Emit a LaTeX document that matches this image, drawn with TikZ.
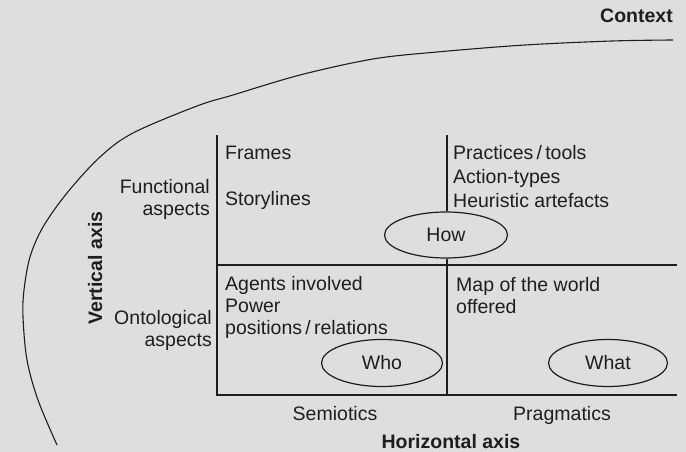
\documentclass[tikz,border=0pt]{standalone}
\usepackage{fontspec}
\setmainfont{Liberation Sans}
\usetikzlibrary{shapes.geometric}
\definecolor{bg}{RGB}{222,222,222}
\definecolor{ink}{RGB}{30,30,30}
\begin{document}
\begin{tikzpicture}[x=1pt,y=-1pt,
  every node/.style={inner sep=0pt, text=ink, font=\fontsize{19.5}{23}\selectfont},
  lbl/.style={anchor=base west},
  rlbl/.style={anchor=base east},
  clbl/.style={anchor=base},
  axis/.style={anchor=base, font=\fontsize{19.5}{23}\selectfont\bfseries},
  oval/.style={ellipse, draw=ink, line width=1.2pt},
  ln/.style={draw=ink, line width=1.2pt}]
\fill[bg] (0,0) rectangle (686,452);
\useasboundingbox (0,0) rectangle (686,452);

% context curve
\draw[ln, line width=1.1pt] plot[smooth, tension=0.55] coordinates {
 (673,40) (612,41) (525,45) (437,52) (373,59) (300,75) (233,95) (197,106)
 (133,133) (100,157) (67,193) (43,227) (30,257) (24,290) (23,317) (27,360) (38,400) (57,445)};

% ellipses
\node[oval, minimum width=123pt, minimum height=46pt] (how) at (446,235) {How};
\node[oval, minimum width=121pt, minimum height=47pt] (who) at (382,363) {Who};
\node[oval, minimum width=119pt, minimum height=47pt] (what) at (608,363) {What};

% grid
\coordinate (tl) at (217,135);
\coordinate (bl) at (217,395);
\coordinate (br) at (677,395);
\coordinate (ml) at (217,265);
\coordinate (mr) at (677,265);
\coordinate (mt) at (447,135);
\coordinate (mb) at (447,395);
\draw[ln] (tl) -- (bl) -- (br);
\draw[ln] (ml) -- (mr);
\draw[ln] (mt) -- (mt |- how.north);
\draw[ln] (mb |- how.south) -- (mb);

% texts
\node[lbl] (frames) at (225,159) {Frames};
\node[lbl] (story) at (225,205) {Storylines};
\node[rlbl] (func1) at (210,193) {Functional};
\node[rlbl] (func2) at (210,215) {aspects};
\node[rlbl] (onto1) at (212,324.5) {Ontological};
\node[rlbl] (onto2) at (212,346) {aspects};
\node[lbl] (ag1) at (225,290) {Agents involved};
\node[lbl] (ag2) at (225,312) {Power};
\node[lbl] (ag3) at (225,334) {positions\,/\,relations};
\node[lbl] (pr1) at (453,159) {Practices\,/\,tools};
\node[lbl] (pr2) at (453,183) {Action-types};
\node[lbl] (pr3) at (453,207) {Heuristic artefacts};
\node[lbl] (map1) at (456,291) {Map of the world};
\node[lbl] (map2) at (456,313) {offered};
\node[clbl] (sem) at (335,420) {Semiotics};
\node[clbl] (prag) at (562,420) {Pragmatics};
\node[axis] (hax) at (451,448) {Horizontal axis};
\node[axis, rotate=90] (vax) at (102,268) {Vertical axis};
\node[axis, anchor=base east] (ctx) at (673,23) {Context};
\end{tikzpicture}
\end{document}
